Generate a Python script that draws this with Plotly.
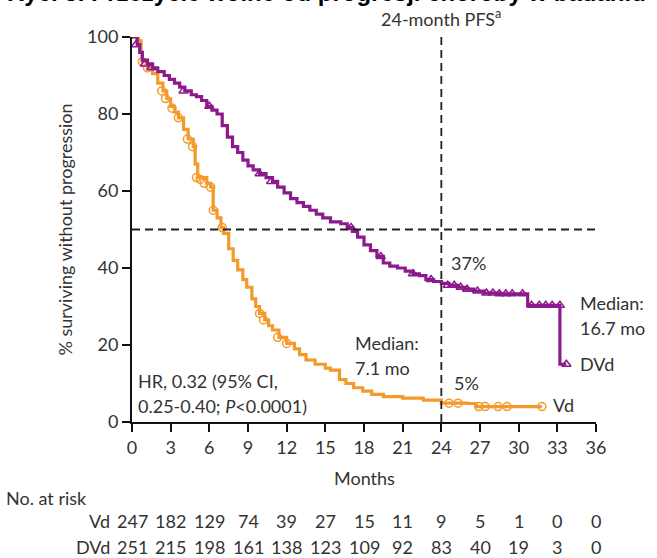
import plotly.graph_objects as go

# ---- data ----
months_ticks = [0, 3, 6, 9, 12, 15, 18, 21, 24, 27, 30, 33, 36]
y_ticks = [0, 20, 40, 60, 80, 100]

vd_time = [0, 0.5, 0.7, 0.8, 1.2, 1.6, 2.0, 2.4, 2.7, 3.0, 3.3, 3.6, 4.0, 4.35, 4.75,
           4.9, 5.1, 5.8, 6.1, 6.3, 6.6, 6.9, 7.1, 7.5, 7.85, 8.2, 8.6, 8.9, 9.3, 9.6,
           9.9, 10.3, 10.6, 10.9, 11.4, 12.0, 12.6, 13.0, 13.5, 14.2, 15.0, 15.4, 16.1,
           16.6, 17.2, 17.9, 18.6, 19.5, 21.0, 22.6, 24.0, 26.0, 26.7, 31.8]
vd_surv = [100, 99, 96, 93.6, 92, 90.5, 88, 86, 84, 82, 80.5, 79, 76, 73.5, 71.5,
           67, 63.5, 62, 61, 55, 53, 50.5, 49, 45, 42, 39.5, 37, 35, 32, 30,
           28.2, 26.5, 25, 23.9, 22, 20.4, 19, 17.5, 16.1, 15, 14, 13.5, 11,
           10, 8.9, 8, 7.2, 6.6, 6.2, 5.7, 4.9, 4.8, 4.0, 4.0]
vd_cens_t = [0.8, 1.2, 2.3, 2.6, 3.1, 3.6, 4.3, 4.7, 5.0, 5.3, 5.6, 6.1, 6.3, 7.0,
             9.9, 10.2, 11.3, 12.0, 24.6, 25.3, 26.9, 27.4, 28.4, 29.1, 31.8]
vd_cens_s = [93.6, 92, 86, 84, 81.5, 79, 73.5, 71.5, 63.5, 63, 62, 61, 55, 50.5,
             28.2, 26.5, 22, 20.4, 4.9, 4.9, 4.0, 4.0, 4.0, 4.0, 4.0]

dvd_time = [0, 0.4, 0.6, 0.8, 1.2, 1.6, 2.0, 2.5, 2.9, 3.3, 3.7, 4.1, 4.6, 5.0, 5.4,
            5.8, 6.2, 6.6, 7.0, 7.4, 7.8, 8.2, 8.6, 9.0, 9.4, 9.9, 10.4, 10.9, 11.3,
            11.8, 12.3, 12.8, 13.3, 13.8, 14.3, 14.8, 15.4, 16.2, 16.7, 17.1, 17.5,
            18.0, 18.5, 19.0, 19.5, 20.0, 20.6, 21.2, 21.8, 22.3, 22.8, 23.4, 24.0,
            24.6, 25.3, 25.9, 26.5, 27.3, 28.5, 30.7, 33.2, 33.7]
dvd_surv = [100, 98, 96, 94, 93, 92, 91, 90, 89, 88, 87, 86, 85, 84.5, 83.5,
            82, 81, 80, 77, 74, 71.5, 70, 68, 66.5, 65.5, 64.5, 63.5, 62.5, 61,
            59.5, 58, 57, 56, 55, 54, 53, 52, 51.5, 50.5, 49.5, 48,
            46, 44.5, 43, 41.3, 40.5, 40, 39.2, 38.5, 38, 37, 36.5, 36,
            35.5, 35, 34.5, 34, 33.5, 33.3, 30.3, 15, 15]
dvd_cens_t = [0.3, 1.0, 1.5, 4.0, 6.0, 9.9, 10.8, 17.0, 19.3, 21.8, 23.2, 24.5, 25.0,
              25.5, 26.0, 26.8, 27.5, 28.0, 28.5, 29.0, 29.5, 30.3, 31.0, 31.6, 32.1,
              32.6, 33.2, 33.7]
dvd_cens_s = [98, 93, 92, 86, 82, 64.5, 62.5, 50.5, 43, 38.5, 37, 35.5, 35.5,
              35, 34.5, 34, 33.5, 33.5, 33.3, 33.3, 33.3, 33.3, 30.3, 30.3, 30.3,
              30.3, 30.3, 15]

risk_vd = [247, 182, 129, 74, 39, 27, 15, 11, 9, 5, 1, 0, 0]
risk_dvd = [251, 215, 198, 161, 138, 123, 109, 92, 83, 40, 19, 3, 0]

ORANGE = "#F39A2B"
PURPLE = "#8C1A8C"
TXT = "#333333"
FONT = "Lato"

fig = go.Figure()
fig.add_trace(go.Scatter(x=vd_time, y=vd_surv, mode="lines", line_shape="hv",
                         line=dict(color=ORANGE, width=3.2), cliponaxis=False))
fig.add_trace(go.Scatter(x=vd_cens_t, y=vd_cens_s, mode="markers", cliponaxis=False,
                         marker=dict(symbol="circle-open", size=8, color=ORANGE,
                                     line=dict(width=1.5, color=ORANGE))))
fig.add_trace(go.Scatter(x=dvd_time, y=dvd_surv, mode="lines", line_shape="hv",
                         line=dict(color=PURPLE, width=3.2), cliponaxis=False))
fig.add_trace(go.Scatter(x=dvd_cens_t, y=dvd_cens_s, mode="markers", cliponaxis=False,
                         marker=dict(symbol="triangle-up-open", size=8, color=PURPLE,
                                     line=dict(width=1.5, color=PURPLE))))

# reference lines
fig.add_shape(type="line", x0=0, x1=36, y0=50, y1=50, xref="x", yref="y",
              line=dict(color="#222", width=1.8, dash="8px,5px"))
fig.add_shape(type="line", x0=24, x1=24, y0=0, y1=100, xref="x", yref="y",
              line=dict(color="#222", width=1.8, dash="8px,5px"))

W, H = 657, 558
ML, MR, MT, MB = 132, 61, 37, 136
PW, PH = W - ML - MR, H - MT - MB


def px_x(p):
    return (p - ML) / PW


def px_y(p):
    return (H - MB - p) / PH


def ann(text, x, y, xanchor="left", yanchor="middle", size=18, color=TXT, **kw):
    fig.add_annotation(text=text, x=px_x(x), y=px_y(y), xref="paper", yref="paper",
                       xanchor=xanchor, yanchor=yanchor, showarrow=False,
                       font=dict(size=size, color=color, family=kw.pop("family", FONT)),
                       align=kw.pop("align", "left"), **kw)


# cut-off title at top
ann("<b>Ryc. 3. Przeżycie wolne od progresji choroby w badaniu</b>", 5, -8,
    size=24, color="#000", family="Liberation Sans")

ann("24-month PFS<sup>a</sup>", 441, 18, xanchor="center")
ann("37%", 449, 263)
ann("5%", 452, 383)
ann("Median:", 578, 303)
ann("16.7 mo", 578, 328)
ann("DVd", 578, 364)
ann("Vd", 551, 405)
ann("Median:", 353, 343)
ann("7.1 mo", 353, 368)
ann("HR, 0.32 (95% CI,", 136, 381)
ann("0.25-0.40; <i>P</i><0.0001)", 136, 406)

ann("Months", 364, 478, xanchor="center")
ann("No. at risk", 4, 498)
ann("Vd", 112, 521, xanchor="right")
ann("DVd", 112, 547, xanchor="right")
for m, a, b in zip(months_ticks, risk_vd, risk_dvd):
    fig.add_annotation(text=str(a), x=m, y=px_y(521), xref="x", yref="paper",
                       showarrow=False, xanchor="center", yanchor="middle",
                       font=dict(size=18, color=TXT, family=FONT))
    fig.add_annotation(text=str(b), x=m, y=px_y(547), xref="x", yref="paper",
                       showarrow=False, xanchor="center", yanchor="middle",
                       font=dict(size=18, color=TXT, family=FONT))

axis_common = dict(showline=True, linecolor="#111", linewidth=2, ticks="outside",
                   ticklen=8, tickwidth=2, tickcolor="#111", showgrid=False,
                   zeroline=False, tickfont=dict(size=18, color=TXT, family=FONT))
fig.update_xaxes(range=[0, 36], tickvals=months_ticks, **axis_common)
fig.update_yaxes(range=[0, 100], tickvals=y_ticks,
                 title=dict(text="% surviving without progression",
                            font=dict(size=18, color=TXT, family=FONT), standoff=10),
                 **axis_common)

fig.update_layout(width=W, height=H, margin=dict(l=ML, r=MR, t=MT, b=MB),
                  plot_bgcolor="white", paper_bgcolor="white", showlegend=False,
                  font=dict(family=FONT, color=TXT))

fig.write_html("out.html")
